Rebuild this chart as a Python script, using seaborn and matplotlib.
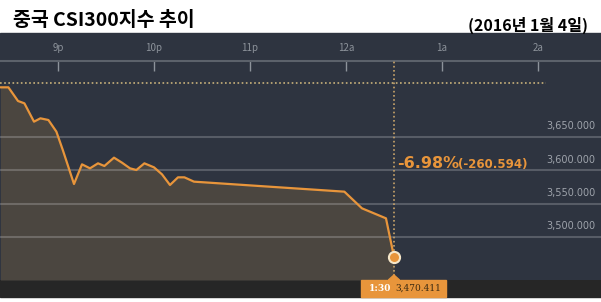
import matplotlib
matplotlib.use("Agg")
import matplotlib.pyplot as plt
from matplotlib.patches import Rectangle, Polygon
import seaborn as sns
import pandas as pd

# ---- data (minutes after 9 p.m.) ----
minutes = [-36, -31, -25, -21, -15, -11, -6, -1, 3, 10, 15, 20, 25, 29, 35, 40, 45,
           49, 54, 60, 65, 70, 75, 79, 85, 179, 190, 205, 210]
values = [3724.5, 3724.5, 3704, 3700.5, 3673, 3678, 3675.5, 3658, 3630.5, 3579.5,
          3609, 3603, 3610.5, 3606.5, 3619, 3611.5, 3603, 3600.5, 3610.5, 3604.5,
          3594, 3578, 3589.5, 3589.5, 3583, 3568, 3543, 3528, 3470.411]
tick_pos = [0, 60, 120, 180, 240, 300]
tick_labels = ["9p", "10p", "11p", "12a", "1a", "2a"]
y_ticks = [3500, 3550, 3600, 3650]
prev_close = 3731.005
last_value = 3470.411
change = -260.594
pct = -6.98
last_label = "1:30"
title = "중국 CSI300지수 추이"
subtitle = "(2016년 1월 4일)"

df = pd.DataFrame({"minute": minutes, "value": values})

sns.set_style("white")
plt.rcParams["font.family"] = ["Noto Sans CJK KR", "DejaVu Sans"]

BG = "#2e3440"
FILL = "#4b4640"
ORANGE = "#e8953b"
GRAY = "#8d939b"

fig = plt.figure(figsize=(6.01, 3.02), dpi=100)
fig.patch.set_facecolor("white")
# dark panel and bottom strip
fig.patches.append(Rectangle((0, 22 / 302), 1, (280 - 33) / 302, transform=fig.transFigure,
                             color=BG, zorder=-2))
fig.patches.append(Rectangle((0, 5 / 302), 1, 17 / 302, transform=fig.transFigure,
                             color="#262626", zorder=-2))

ax = fig.add_axes([0, 22 / 302, 1, 219 / 302])
ax.set_zorder(1)
ax.set_facecolor(BG)
x_lo, x_hi = -36.25, 339.4
y_lo, y_hi = 3435.5, 3764
ax.set_xlim(x_lo, x_hi)
ax.set_ylim(y_lo, y_hi)

ax.fill_between(df["minute"], df["value"], y_lo, color=FILL, zorder=1, lw=0)
for v in y_ticks:
    ax.axhline(v, color="white", alpha=0.2, lw=1.5, zorder=2)
sns.lineplot(data=df, x="minute", y="value", ax=ax, color=ORANGE, lw=1.6, zorder=4)

ax.plot([x_lo, 305], [prev_close, prev_close], color="#c9b27a", ls=(0, (1, 1.5)), lw=1.2, zorder=3)
ax.axvline(minutes[-1], color="#c9a46a", ls=(0, (1, 1.5)), lw=1.2, zorder=3)
ax.plot([minutes[-1]], [last_value], marker="o", ms=8, mfc=ORANGE, mec="#f6e7c9", mew=1.5,
        zorder=6, clip_on=False)

ax.text(minutes[-1] + 2, 3610, f"{pct:.2f}%", color=ORANGE, fontsize=11.5, fontweight="bold",
        ha="left", va="center", family="DejaVu Sans", zorder=7)
ax.text(minutes[-1] + 40, 3609, f"({change:.3f})", color=ORANGE, fontsize=8.5,
        fontweight="bold", ha="left", va="center", family="DejaVu Sans", zorder=7)

# x axis on top
ax.xaxis.tick_top()
ax.set_xticks(tick_pos)
ax.set_xticklabels(tick_labels)
ax.tick_params(axis="x", direction="in", length=7, width=1, color=GRAY, labelcolor=GRAY,
               labelsize=7, pad=6)
ax.tick_params(axis="y", left=False, labelleft=False)
ax.set_xlabel("")
ax.set_ylabel("")
for s in ["left", "right", "bottom"]:
    ax.spines[s].set_visible(False)
ax.spines["top"].set_color("#5c626b")
ax.spines["top"].set_linewidth(1.5)

# y labels inside at right
for v in y_ticks:
    ax.annotate(f"{v:,.3f}", xy=(1, v), xycoords=("axes fraction", "data"),
                xytext=(-4, 4), textcoords="offset points", ha="right", va="bottom",
                color="#9ea3ab", fontsize=7, family="DejaVu Sans")

# bottom label box
xt = ax.get_xaxis_transform()
ax.add_patch(Rectangle((minutes[-1] - 20.6, -17 / 219), 53, 17 / 219, transform=xt,
                       color=ORANGE, clip_on=False, zorder=8))
ax.add_patch(Polygon([(minutes[-1] - 3.5, 0), (minutes[-1] + 3.5, 0),
                      (minutes[-1], 5 / 219)], closed=True, transform=xt, color=ORANGE,
                     clip_on=False, zorder=8))
ax.text(minutes[-1] - 9, -8.5 / 219, last_label, transform=xt, color="white", fontsize=6.5,
        ha="center", va="center", family="DejaVu Serif", fontweight="bold", zorder=9)
ax.text(minutes[-1] + 15, -8.5 / 219, f"{last_value:,.3f}", transform=xt, color="#3b2a12",
        fontsize=6.5, ha="center", va="center", family="DejaVu Serif", zorder=9)

# titles
fig.text(13 / 601, 1 - 20 / 302, title, fontsize=14, fontweight="bold", color="black",
         ha="left", va="center")
fig.text(588 / 601, 1 - 25 / 302, subtitle, fontsize=11.5, fontweight="bold", color="black",
         ha="right", va="center")

fig.savefig("out.png", dpi=100, facecolor="white")
